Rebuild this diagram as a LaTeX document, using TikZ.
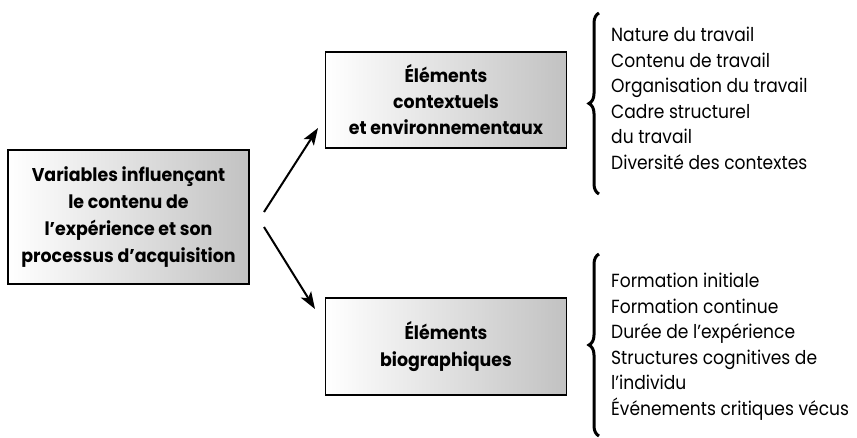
\documentclass[tikz,border=0pt]{standalone}
\usepackage{fontspec}
\setmainfont{Poppins}
\newfontfamily\listfont[FakeStretch=0.9]{Poppins}
\newfontfamily\boxfont[FakeStretch=0.94]{Poppins}
\usetikzlibrary{decorations.pathreplacing,arrows.meta}
\begin{document}
\begin{tikzpicture}[x=1pt,y=-1pt,
  boxstyle/.style={draw=black, line width=1.3pt, left color=white, right color=black!24, minimum width=241pt, align=center, inner sep=0pt},
  listtext/.style={align=left, anchor=north west, inner sep=0pt, font=\listfont\fontsize{19}{25.5}\selectfont},
  bracestyle/.style={decorate, decoration={brace, amplitude=10pt, aspect=0.5}, line width=3pt},
  arr/.style={-{Stealth[length=17pt,width=12pt,inset=4pt]}, line width=2pt}]
\useasboundingbox (0,0) rectangle (857,437);
\node[boxstyle, minimum height=134pt, font=\boxfont\bfseries\fontsize{18.5}{27}\selectfont] (var) at (128.5,217)
  {Variables influençant\\le contenu de\\l’expérience et son\\processus d’acquisition};
\node[boxstyle, minimum height=96pt, font=\boxfont\bfseries\fontsize{18.5}{26}\selectfont] (ctx) at (446,100)
  {Éléments\\contextuels\\et environnementaux};
\node[boxstyle, minimum height=97pt, font=\boxfont\bfseries\fontsize{18.5}{27}\selectfont] (bio) at (446,346.5)
  {Éléments\\biographiques};
\coordinate (a1) at (264,212);
\coordinate (a2) at (264,227);
\coordinate (t1) at (318,128);
\coordinate (t2) at (315,309);
\draw[arr] (a1) -- (t1);
\draw[arr] (a2) -- (t2);
\coordinate (b1s) at (599,194);
\coordinate (b1e) at (599,13);
\coordinate (b2s) at (599,436);
\coordinate (b2e) at (599,254);
\draw[bracestyle] (b1s) -- (b1e);
\draw[bracestyle] (b2s) -- (b2e);
\node[listtext] (l1) at (611,27) {Nature du travail\\Contenu de travail\\Organisation du travail\\Cadre structurel\\du travail\\Diversité des contextes};
\node[listtext] (l2) at (611,273) {Formation initiale\\Formation continue\\Durée de l’expérience\\Structures cognitives de\\l’individu\\Événements critiques vécus};
\end{tikzpicture}
\end{document}
